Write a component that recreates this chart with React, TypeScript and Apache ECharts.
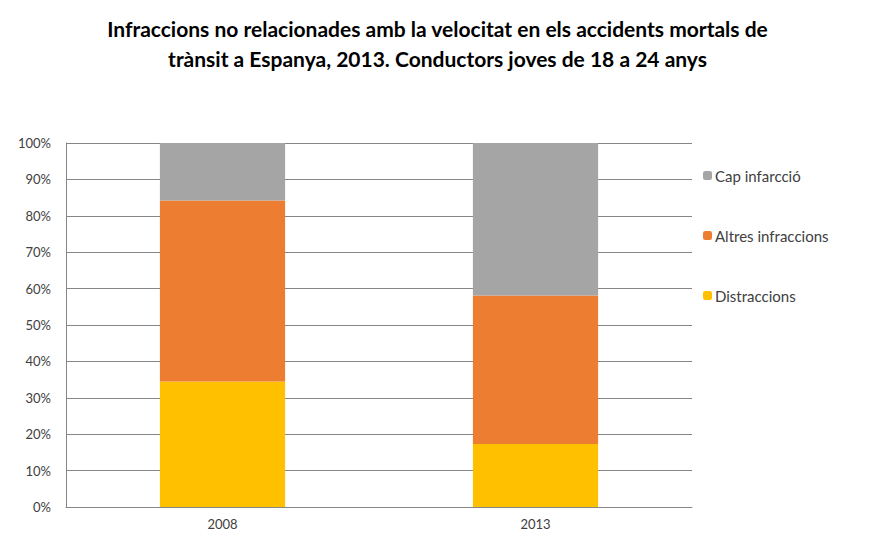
import React, { useEffect, useRef } from "react";
import * as echarts from "echarts";

const categories = ["2008", "2013"];
const distraccions = [34.5, 17.3];
const altres = [49.7, 40.8];
const capInfraccio = [15.8, 41.9];
const legendNames = ["Cap infarcció", "Altres infraccions", "Distraccions"];
const titleText =
  "Infraccions no relacionades amb la velocitat en els accidents mortals de\ntrànsit a Espanya, 2013. Conductors joves de 18 a 24 anys";

export default function App() {
  const ref = useRef<HTMLDivElement>(null);
  useEffect(() => {
    document.body.style.margin = "0";
    const chart = echarts.init(ref.current!, null, { renderer: "svg" });
    chart.setOption({
      animation: false,
      backgroundColor: "#ffffff",
      title: {
        text: titleText,
        left: "center",
        top: 8,
        textStyle: {
          fontFamily: "Lato",
          fontSize: 21,
          fontWeight: "bold",
          color: "#000000",
          lineHeight: 30,
        },
      },
      legend: {
        orient: "vertical",
        left: 698,
        top: 163,
        itemWidth: 9,
        itemHeight: 9,
        itemGap: 45,
        data: legendNames,
        textStyle: { fontFamily: "Lato", fontSize: 15, color: "#404040", padding: [0, 0, 0, -2] },
      },
      grid: { left: 66, right: 183, top: 143, bottom: 45 },
      xAxis: {
        type: "category",
        data: categories,
        axisLine: { show: true, lineStyle: { color: "#868686" } },
        axisTick: { show: false },
        axisLabel: { fontFamily: "Lato", fontSize: 13, color: "#404040", margin: 10 },
      },
      yAxis: {
        type: "value",
        min: 0,
        max: 100,
        interval: 10,
        axisLine: { show: true, lineStyle: { color: "#868686" } },
        axisTick: { show: false },
        splitLine: { lineStyle: { color: "#868686", width: 1 } },
        axisLabel: {
          formatter: "{value}%",
          fontFamily: "Lato",
          fontSize: 13,
          color: "#404040",
          margin: 15,
        },
      },
      series: [
        {
          name: "Distraccions",
          type: "bar",
          stack: "total",
          barWidth: "40%",
          data: distraccions,
          itemStyle: { color: "#ffc000" },
        },
        {
          name: "Altres infraccions",
          type: "bar",
          stack: "total",
          data: altres,
          itemStyle: { color: "#ed7d31" },
        },
        {
          name: "Cap infarcció",
          type: "bar",
          stack: "total",
          data: capInfraccio,
          itemStyle: { color: "#a5a5a5" },
        },
      ],
    });
    return () => chart.dispose();
  }, []);
  return <div ref={ref} style={{ width: 875, height: 552 }} />;
}
